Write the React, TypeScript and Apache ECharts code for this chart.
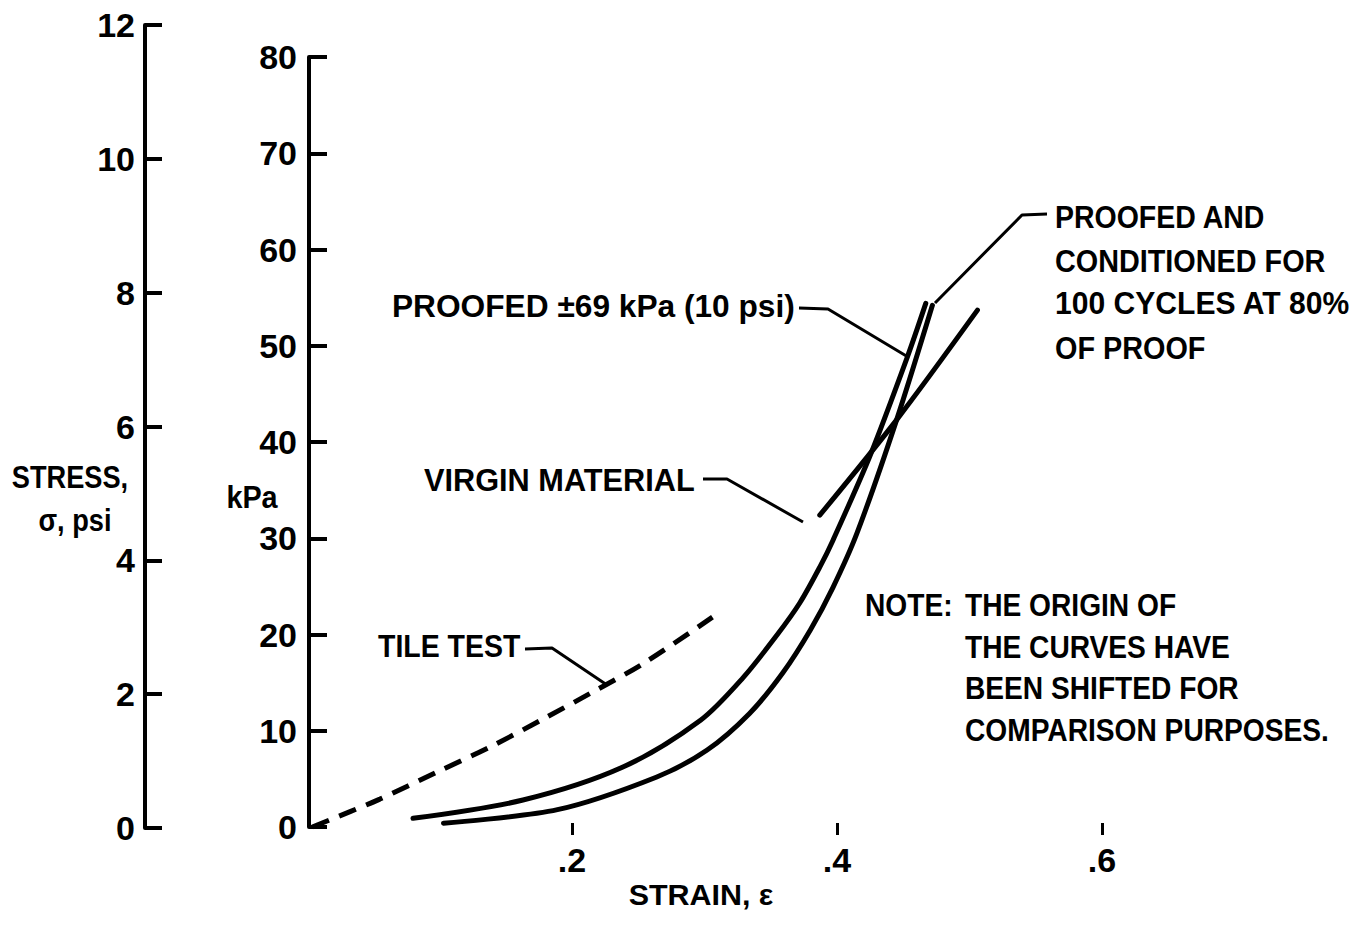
import React, { useEffect, useRef } from "react";
import * as echarts from "echarts";

// ---- data (strain, stress kPa) ----
const tileStrain = [0.004, 0.055, 0.098, 0.138, 0.178, 0.214, 0.254, 0.306];
const tileKpa = [0.0, 2.9, 5.7, 8.3, 11.2, 13.9, 17.0, 21.8];

const proofedStrain = [0.08, 0.163, 0.238, 0.297, 0.329, 0.355, 0.372, 0.387, 0.397, 0.425, 0.453, 0.467];
const proofedKpa = [0.9, 2.8, 6.2, 11.1, 15.5, 20.0, 23.3, 27.0, 29.8, 38.6, 48.8, 54.4];

const condStrain = [0.103, 0.189, 0.264, 0.302, 0.334, 0.359, 0.38, 0.397, 0.415, 0.445, 0.472];
const condKpa = [0.4, 1.8, 5.2, 8.0, 11.8, 16.0, 20.5, 24.9, 30.5, 42.3, 54.2];

const virginStrain = [0.387, 0.445, 0.506];
const virginKpa = [32.4, 42.3, 53.7];

const xTicks = [0.2, 0.4, 0.6];
const xTickLabels = [".2", ".4", ".6"];

const FONT = '"Liberation Sans", Arial, sans-serif';

const zip = (a: number[], b: number[]) => a.map((v, i) => [v, b[i]]);

function txt(text: string, x: number, y: number, size = 32, align = "left", sx = 0.9) {
  return {
    type: "text",
    x,
    y,
    scaleX: sx,
    style: {
      text,
      fontSize: size,
      fontFamily: FONT,
      fontWeight: "bold",
      fill: "#000",
      textAlign: align,
      textVerticalAlign: "middle",
    },
  };
}

function leader(points: number[][]) {
  return {
    type: "polyline",
    shape: { points },
    style: { stroke: "#000", lineWidth: 3, fill: null, lineJoin: "round" },
  };
}

export default function App() {
  const ref = useRef<HTMLDivElement>(null);
  useEffect(() => {
    if (!ref.current) return;
    const chart = echarts.init(ref.current, undefined, { renderer: "svg" });
    const axisLabelStyle = {
      fontSize: 34,
      fontFamily: FONT,
      fontWeight: "bold",
      color: "#000",
    };
    const solid = { color: "#000", width: 5, cap: "round" };
    const curve = {
      type: "line",
      xAxisIndex: 1,
      yAxisIndex: 1,
      smooth: 0.3,
      showSymbol: false,
      silent: true,
    };
    chart.setOption({
      animation: false,
      backgroundColor: "#fff",
      grid: [
        { left: 307, right: 122.5, top: 25, bottom: 104 },
        { left: 307, right: 122.5, top: 57, bottom: 105 },
      ],
      xAxis: [
        {
          gridIndex: 0,
          type: "value",
          min: 0,
          max: 0.7,
          show: false,
        },
        {
          gridIndex: 1,
          type: "value",
          min: 0,
          max: 0.7,
          interval: 0.1,
          offset: 8,
          axisLine: { show: false, onZero: false },
          splitLine: { show: false },
          axisTick: {
            show: true,
            inside: true,
            length: 12,
            lineStyle: { color: "#000", width: 3 },
            customValues: xTicks,
          },
          axisLabel: {
            ...axisLabelStyle,
            margin: 8,
            customValues: xTicks,
            formatter: (v: number) => {
              const i = xTicks.findIndex((t) => Math.abs(t - v) < 1e-6);
              return i >= 0 ? xTickLabels[i] : "";
            },
          },
        },
      ],
      yAxis: [
        {
          gridIndex: 0,
          type: "value",
          min: 0,
          max: 12,
          interval: 2,
          position: "left",
          offset: 162,
          axisLine: { show: true, onZero: false, lineStyle: { color: "#000", width: 4 } },
          axisTick: { show: true, inside: true, length: 17, lineStyle: { color: "#000", width: 4 } },
          splitLine: { show: false },
          axisLabel: { ...axisLabelStyle, margin: 10 },
        },
        {
          gridIndex: 1,
          type: "value",
          min: 0,
          max: 80,
          interval: 10,
          position: "left",
          offset: -2,
          axisLine: { show: true, onZero: false, lineStyle: { color: "#000", width: 4 } },
          axisTick: { show: true, inside: true, length: 18, lineStyle: { color: "#000", width: 4 } },
          splitLine: { show: false },
          axisLabel: { ...axisLabelStyle, margin: 12 },
        },
      ],
      series: [
        {
          ...curve,
          name: "TILE TEST",
          data: zip(tileStrain, tileKpa),
          lineStyle: { color: "#000", width: 5, type: [18, 11] },
        },
        {
          ...curve,
          name: "PROOFED ±69 kPa (10 psi)",
          data: zip(proofedStrain, proofedKpa),
          lineStyle: solid,
        },
        {
          ...curve,
          name: "PROOFED AND CONDITIONED",
          data: zip(condStrain, condKpa),
          lineStyle: solid,
        },
        {
          ...curve,
          name: "VIRGIN MATERIAL",
          data: zip(virginStrain, virginKpa),
          lineStyle: solid,
        },
      ],
      graphic: [
        txt("STRESS,", 70, 477, 32, "center", 0.85),
        txt("σ, psi", 75, 520, 32, "center", 0.85),
        txt("kPa", 252, 496, 32, "center", 0.9),
        txt("STRAIN, ε", 701, 895, 29, "center", 1.05),
        txt("PROOFED ±69 kPa (10 psi)", 392, 306, 32, "left", 0.99),
        leader([[799, 308], [828, 309], [908, 357]]),
        txt("VIRGIN MATERIAL", 424, 480, 32, "left", 0.96),
        leader([[703, 479], [727, 479], [803, 522]]),
        txt("TILE TEST", 378, 646, 32, "left", 0.89),
        leader([[525, 649], [552, 648], [607, 685]]),
        txt("PROOFED AND", 1055, 217, 32, "left", 0.89),
        txt("CONDITIONED FOR", 1055, 260, 32, "left", 0.9),
        txt("100 CYCLES AT 80%", 1055, 303, 32, "left", 0.94),
        txt("OF PROOF", 1055, 347, 32, "left", 0.9),
        leader([[1047, 214], [1022, 215], [935, 303]]),
        txt("NOTE:", 865, 605, 32, "left", 0.88),
        txt("THE ORIGIN OF", 965, 605, 32, "left", 0.88),
        txt("THE CURVES HAVE", 965, 647, 32, "left", 0.88),
        txt("BEEN SHIFTED FOR", 965, 688, 32, "left", 0.88),
        txt("COMPARISON PURPOSES.", 965, 730, 32, "left", 0.88),
      ],
    });
    return () => chart.dispose();
  }, []);
  return (
    <div
      ref={ref}
      style={{ position: "absolute", left: 0, top: 0, width: 1357, height: 932, background: "#fff" }}
    />
  );
}
